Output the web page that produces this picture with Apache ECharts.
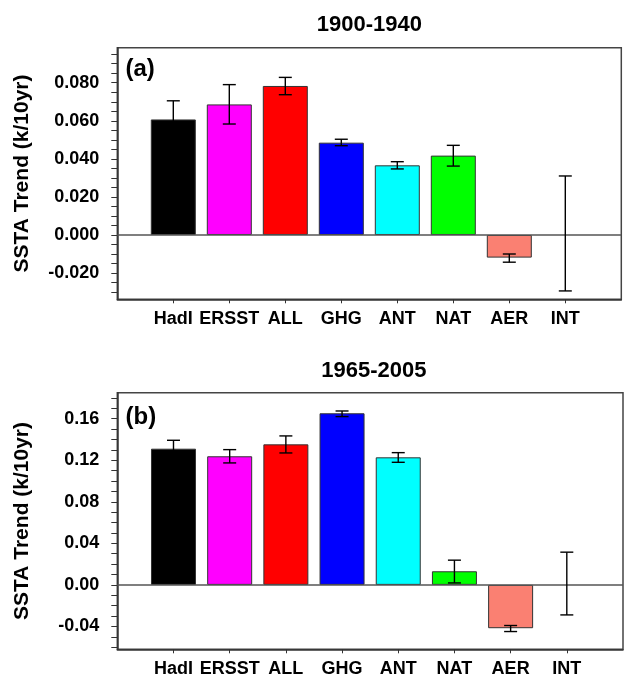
<!DOCTYPE html>
<html>
<head>
<meta charset="utf-8">
<script src="https://cdn.jsdelivr.net/npm/echarts@6/dist/echarts.min.js"></script>
<style>
html,body{margin:0;padding:0;background:#fff;}
#chart{width:626px;height:679px;}
</style>
</head>
<body>
<div id="chart"></div>
<script>
// ---- data ----
const categories = ['HadI', 'ERSST', 'ALL', 'GHG', 'ANT', 'NAT', 'AER', 'INT'];
const barColors = ['#000000', '#ff00ff', '#ff0000', '#0000ff', '#00ffff', '#00ff00', '#fa8072', '#ffffff'];

const trend1900 = [0.0607, 0.0686, 0.0783, 0.0485, 0.0366, 0.0417, -0.0119, null];
const low1900   = [0.0510, 0.0583, 0.0737, 0.0469, 0.0347, 0.0362, -0.0143, -0.0294];
const high1900  = [0.0705, 0.0790, 0.0828, 0.0503, 0.0385, 0.0471, -0.0100, 0.0310];

const trend1965 = [0.1311, 0.1238, 0.1353, 0.1652, 0.1228, 0.0131, -0.0417, null];
const low1965   = [0.1230, 0.1174, 0.1270, 0.1620, 0.1180, 0.0019, -0.0449, -0.0289];
const high1965  = [0.1392, 0.1302, 0.1434, 0.1674, 0.1273, 0.0238, -0.0391, 0.0315];

const ticks1900  = [-0.030,-0.025,-0.020,-0.015,-0.010,-0.005,0.000,0.005,0.010,0.015,0.020,0.025,0.030,0.035,0.040,0.045,0.050,0.055,0.060,0.065,0.070,0.075,0.080,0.085,0.090,0.095];
const labels1900 = [-0.020, 0.000, 0.020, 0.040, 0.060, 0.080];
const ticks1965  = [-0.06,-0.05,-0.04,-0.03,-0.02,-0.01,0.00,0.01,0.02,0.03,0.04,0.05,0.06,0.07,0.08,0.09,0.10,0.11,0.12,0.13,0.14,0.15,0.16,0.17,0.18];
const labels1965 = [-0.04, 0.00, 0.04, 0.08, 0.12, 0.16];

const titles = ['1900-1940', '1965-2005'];
const panelTags = ['(a)', '(b)'];
const yName = 'SSTA Trend (k/10yr)';

// ---- chart ----
const FONT = "'Liberation Sans', Arial, Helvetica, sans-serif";
const xCats = [''].concat(categories).concat(['']);

function xAxisFor(gi) {
  return {
    type: 'category', gridIndex: gi, data: xCats, boundaryGap: false,
    position: 'bottom',
    axisLine: {show: true, onZero: false, lineStyle: {color: '#333', width: 1.5}},
    axisTick: {show: true, length: 4, inside: false,
      interval: function (idx) { return idx > 0 && idx < xCats.length - 1; },
      lineStyle: {color: '#333', width: 1}},
    axisLabel: {show: true, interval: 0, margin: 11, color: '#000', fontSize: 18, fontWeight: 'bold', fontFamily: FONT},
    splitLine: {show: false}
  };
}
function yAxisFor(gi, min, max, ticks, labels, digits) {
  return {
    type: 'value', gridIndex: gi, min: min, max: max,
    name: yName, nameLocation: 'middle', nameGap: 85, nameRotate: 90,
    nameTextStyle: {color: '#000', fontSize: 21, fontWeight: 'bold', fontFamily: FONT},
    axisLine: {show: true, lineStyle: {color: '#333', width: 1.5}},
    axisTick: {show: true, length: 6, customValues: ticks, lineStyle: {color: '#333', width: 1}},
    axisLabel: {show: true, margin: 18, customValues: labels, color: '#000', fontSize: 18, fontWeight: 'bold', fontFamily: FONT,
      formatter: function (v) { return Number(v).toFixed(digits); }},
    splitLine: {show: false}
  };
}
function barSeries(gi, vals) {
  return {
    type: 'bar', xAxisIndex: gi, yAxisIndex: gi, barWidth: 45,
    data: categories.map(function (c, i) {
      return {value: [c, vals[i]], itemStyle: {color: barColors[i], borderColor: '#333', borderWidth: 1}};
    }),
    z: 2,
    markLine: {silent: true, symbol: 'none', label: {show: false},
      lineStyle: {color: '#555', width: 1.5, type: 'solid'},
      data: [{yAxis: 0}], animation: false}
  };
}
function errSeries(gi, lo, hi) {
  return {
    type: 'custom', xAxisIndex: gi, yAxisIndex: gi, z: 5,
    encode: {x: 0, y: [1, 2]},
    data: categories.map(function (c, i) { return [c, lo[i], hi[i]]; }),
    renderItem: function (params, api) {
      const x = api.value(0);
      const pLo = api.coord([x, api.value(1)]);
      const pHi = api.coord([x, api.value(2)]);
      const hw = 6.5;
      const st = {stroke: '#000', lineWidth: 1.4};
      return {type: 'group', children: [
        {type: 'line', shape: {x1: pLo[0], y1: pLo[1], x2: pHi[0], y2: pHi[1]}, style: st},
        {type: 'line', shape: {x1: pHi[0] - hw, y1: pHi[1], x2: pHi[0] + hw, y2: pHi[1]}, style: st},
        {type: 'line', shape: {x1: pLo[0] - hw, y1: pLo[1], x2: pLo[0] + hw, y2: pLo[1]}, style: st}
      ]};
    }
  };
}

const chart = echarts.init(document.getElementById('chart'));
chart.setOption({
  animation: false,
  backgroundColor: '#fff',
  grid: [
    {left: 117.3, top: 47.7, width: 504, height: 251.6, show: true, borderColor: '#444', borderWidth: 1.5, backgroundColor: 'transparent'},
    {left: 117.3, top: 392.7, width: 513, height: 256.6, show: true, borderColor: '#444', borderWidth: 1.5, backgroundColor: 'transparent'}
  ],
  xAxis: [xAxisFor(0), xAxisFor(1)],
  yAxis: [
    yAxisFor(0, -0.0338, 0.0984, ticks1900, labels1900, 3),
    yAxisFor(1, -0.062, 0.185, ticks1965, labels1965, 2)
  ],
  series: [
    barSeries(0, trend1900), errSeries(0, low1900, high1900),
    barSeries(1, trend1965), errSeries(1, low1965, high1965)
  ],
  graphic: [
    {type: 'text', x: 369.3, y: 25.3, style: {text: titles[0], align: 'center', verticalAlign: 'middle', fill: '#000', font: 'bold 22px ' + FONT}},
    {type: 'text', x: 373.8, y: 371, style: {text: titles[1], align: 'center', verticalAlign: 'middle', fill: '#000', font: 'bold 22px ' + FONT}},
    {type: 'text', x: 125.5, y: 69.5, style: {text: panelTags[0], align: 'left', verticalAlign: 'middle', fill: '#000', font: 'bold 24px ' + FONT}},
    {type: 'text', x: 125.5, y: 417, style: {text: panelTags[1], align: 'left', verticalAlign: 'middle', fill: '#000', font: 'bold 24px ' + FONT}}
  ]
});
</script>
</body>
</html>
